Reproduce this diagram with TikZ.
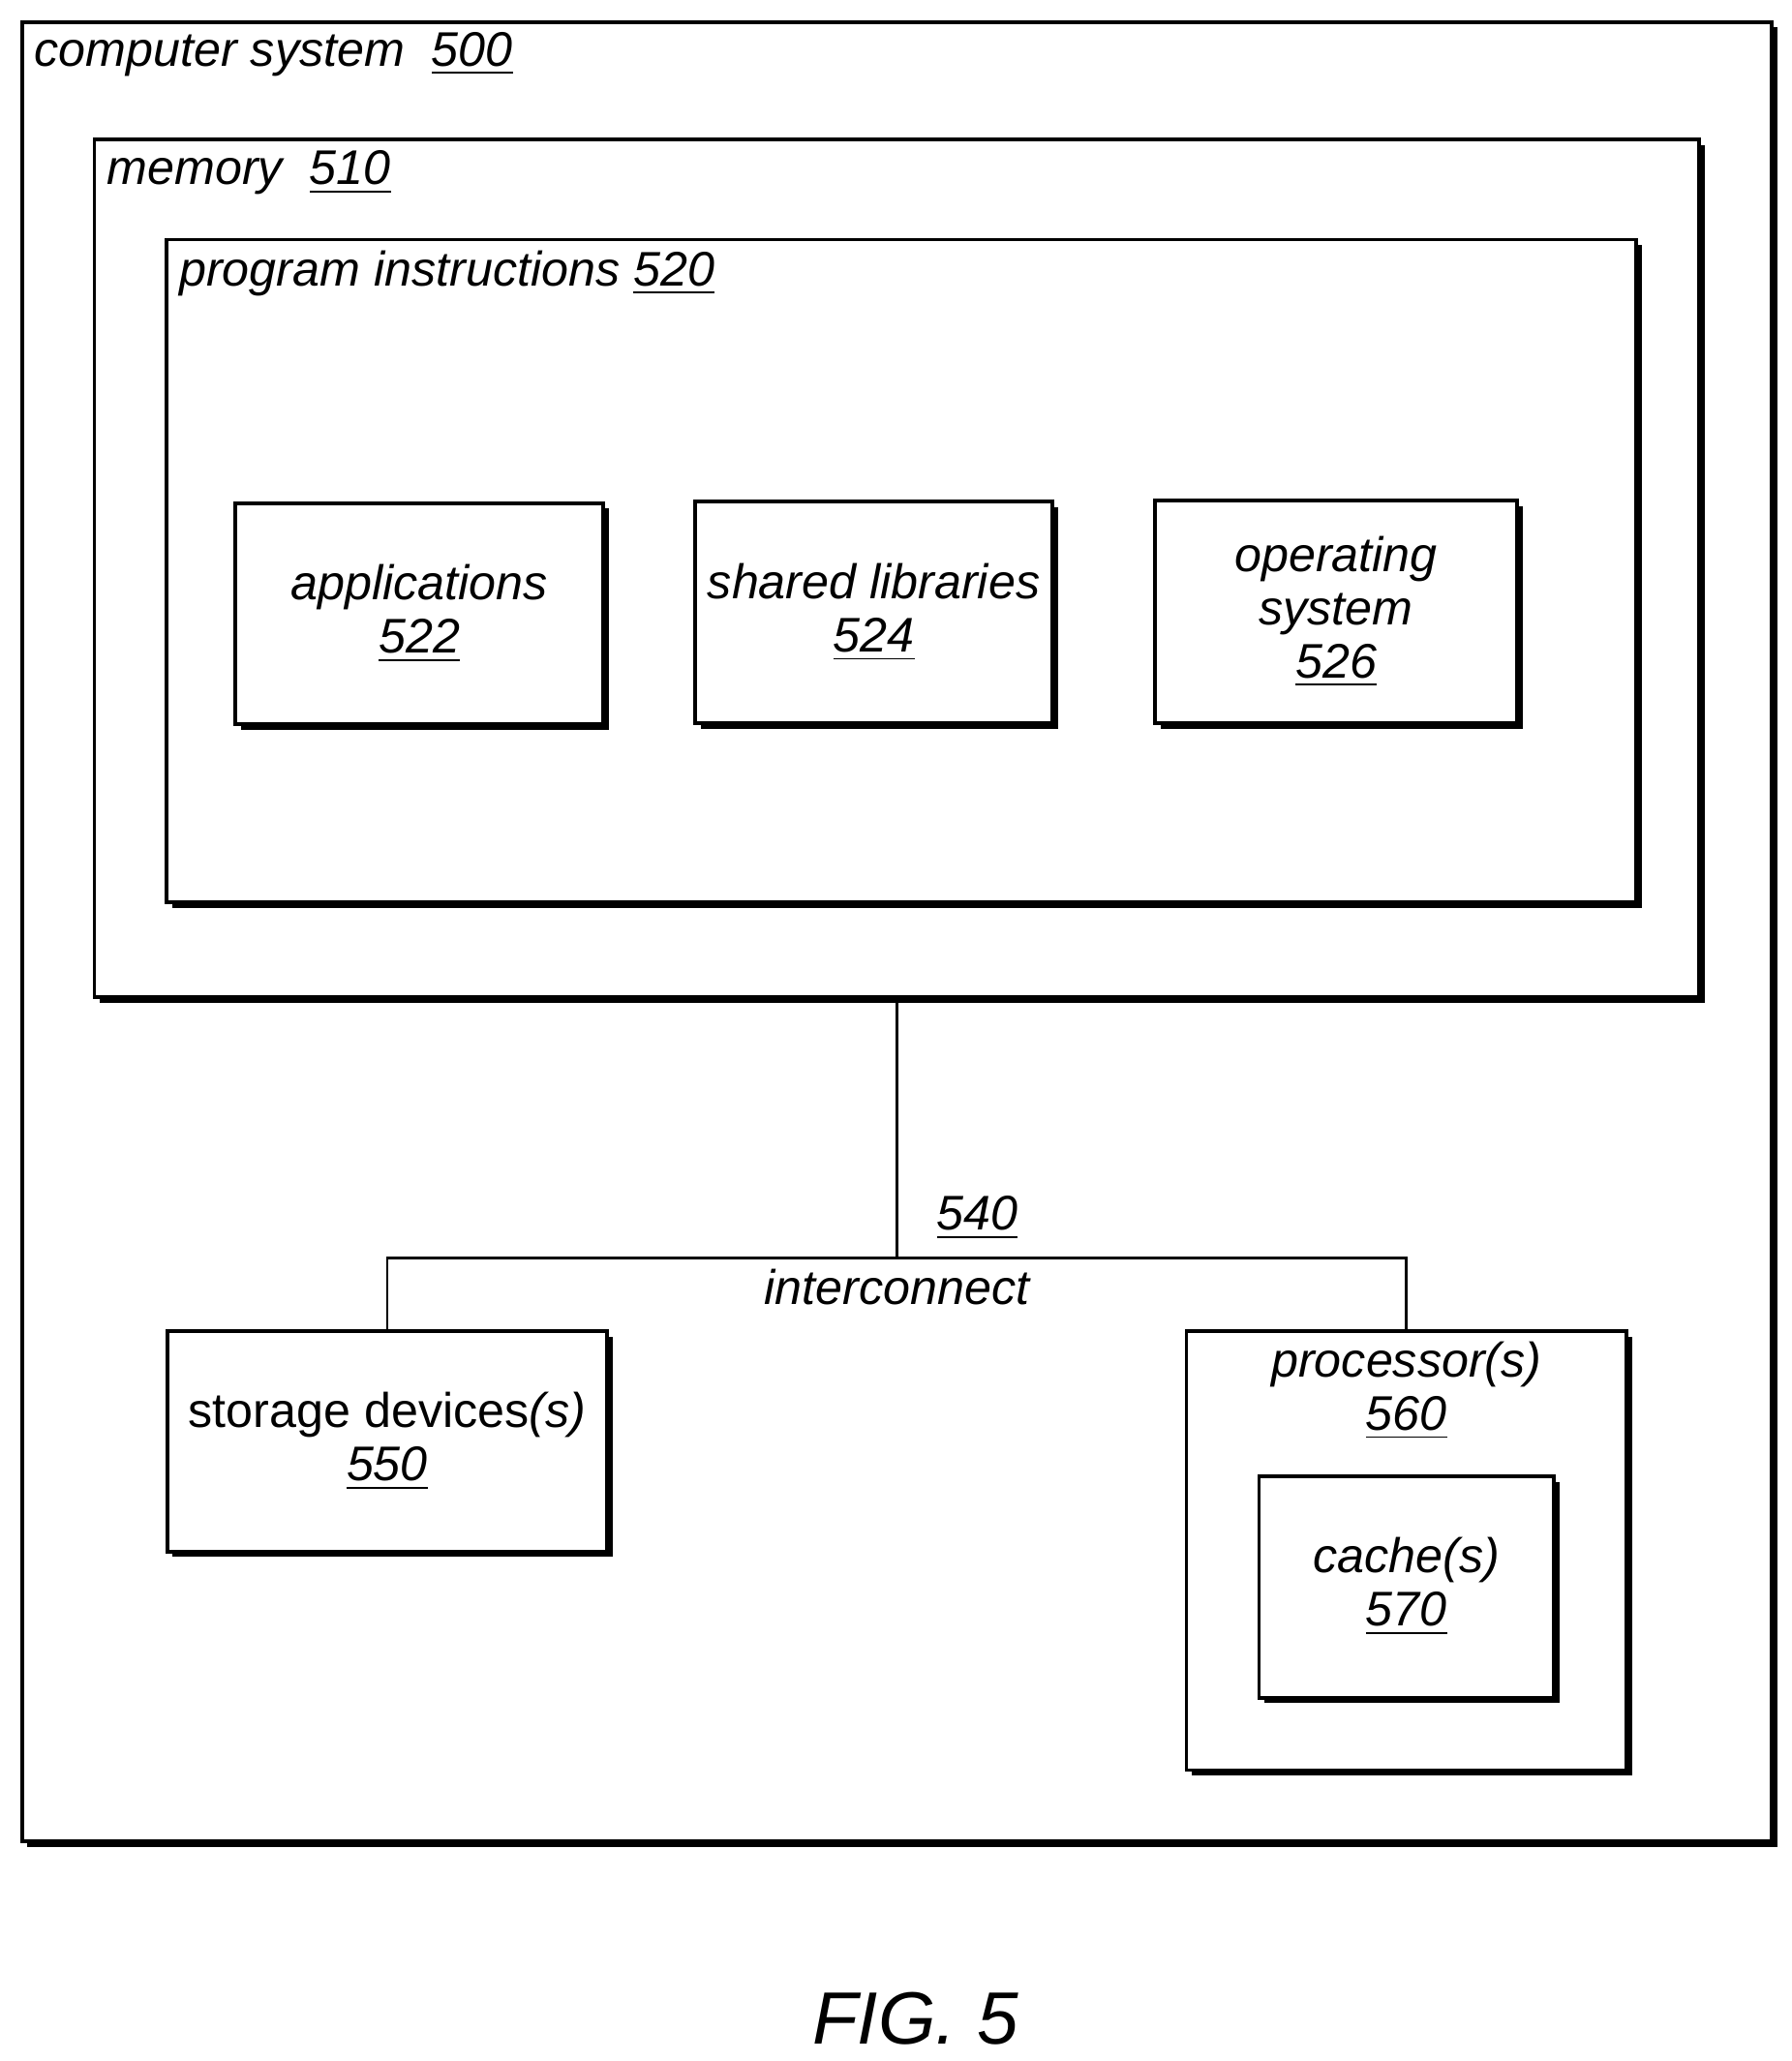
\documentclass[tikz,border=0pt]{standalone}
\usepackage{fontspec}
\setmainfont{Liberation Sans}
\usetikzlibrary{positioning,shadows}
\tikzset{
    box/.style={draw, thick, fill=white, align=center, inner sep=0pt,
        font=\itshape\fontsize{10.5}{11.5}\selectfont,
        drop shadow={shadow xshift=1.2pt, shadow yshift=-1.2pt, fill=black, opacity=1}},
    tag/.style={font=\itshape\fontsize{10.5}{11.5}\selectfont, inner sep=1pt},
    link/.style={draw, semithick}
}
\newcommand{\refnum}[1]{\underline{#1}}
\begin{document}
\begin{tikzpicture}[x=0.01cm, y=-0.01cm]
    \useasboundingbox (0,0) rectangle (1360,1565);

    % outer boxes
    \node[box, minimum width=13.28cm, minimum height=13.81cm] (sys) at (681,707.5) {};
    \node[tag, anchor=north west] (syslbl) at (22,20) {computer system\ \ \refnum{500}};
    \node[box, minimum width=12.18cm, minimum height=6.51cm] (mem) at (681,431.5) {};
    \node[tag, anchor=north west] (memlbl) at (77,110) {memory\ \ \refnum{510}};
    \node[box, minimum width=11.15cm, minimum height=5.03cm] (prog) at (684.5,433.5) {};
    \node[tag, anchor=north west] (proglbl) at (132,186) {program instructions \refnum{520}};

    % program parts
    \node[box, minimum width=2.79cm, minimum height=1.68cm] (apps) at (318.5,466) {applications\\\refnum{522}};
    \node[box, minimum width=2.71cm, minimum height=1.68cm] (libs) at (663.5,465) {shared libraries\\\refnum{524}};
    \node[box, minimum width=2.75cm, minimum height=1.69cm] (os) at (1014.5,464.5) {operating\\system\\\refnum{526}};

    % devices
    \node[box, minimum width=3.34cm, minimum height=1.67cm] (stor) at (294,1094.5)
        {{\upshape storage devices}(s)\\\refnum{550}};
    \node[box, minimum width=3.34cm, minimum height=3.33cm] (proc) at (1068,1177.5) {};
    \node[tag, align=center, below=0.05cm of proc.north] (proclbl) {processor(s)\\\refnum{560}};
    \node[box, minimum width=2.24cm, minimum height=1.68cm] (cache) at (1068,1205) {cache(s)\\\refnum{570}};

    % interconnect
    \coordinate (bus) at (681,955);
    \draw[link] (mem.south) -- (bus);
    \draw[link] (stor.north) |- (bus) -| (proc.north);
    \node[tag] (buslbl) at (742,925) {\refnum{540}};
    \node[tag] (busname) at (681,977) {interconnect};

    \node[font=\itshape\fontsize{16}{18}\selectfont] (fig) at (695,1533) {FIG. 5};
\end{tikzpicture}
\end{document}
